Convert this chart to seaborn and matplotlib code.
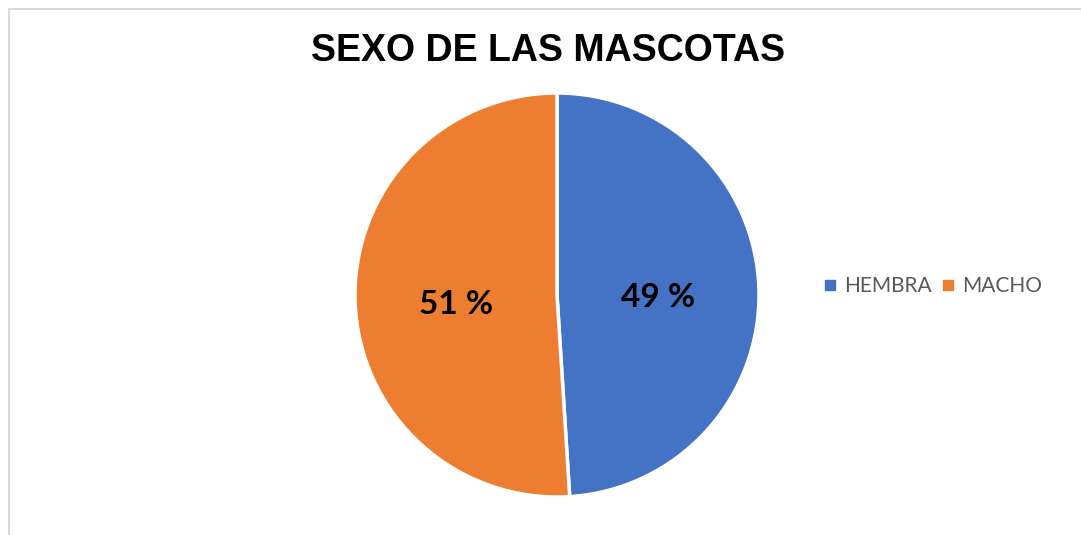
import seaborn as sns
import matplotlib.pyplot as plt
from matplotlib.lines import Line2D

# Datos
categorias = ["HEMBRA", "MACHO"]
porcentajes = [49, 51]
colores = ["#4472C4", "#ED7D31"]

sns.set_style("white")

W, H = 1081, 535
fig = plt.figure(figsize=(W / 100, H / 100), dpi=100)

# marco gris del gráfico (recortado)
fig.add_artist(Line2D([9 / W, 9 / W], [0, 1 - 9 / H], color="#d9d9d9", lw=1.5))
fig.add_artist(Line2D([9 / W, 1], [1 - 9 / H, 1 - 9 / H], color="#d9d9d9", lw=1.5))

# pastel
cx, cy, r = 557, 295, 202
ax = fig.add_axes([(cx - r) / W, (H - cy - r) / H, 2 * r / W, 2 * r / H])
wedges, textos, autotextos = ax.pie(
    porcentajes,
    colors=colores,
    startangle=90,
    counterclock=False,
    autopct=lambda p: f"{p:.0f} %",
    pctdistance=0.5,
    wedgeprops=dict(edgecolor="white", linewidth=2.5),
    textprops=dict(fontsize=24, fontweight="bold", family="Lato", color="black"),
)
for t in autotextos:
    x, y = t.get_position()
    t.set_position((x, y - 0.03))
ax.set_xlim(-1, 1)
ax.set_ylim(-1, 1)
ax.set_aspect("equal")
ax.axis("off")

fig.text(548 / W, 1 - 51 / H, "SEXO DE LAS MASCOTAS", ha="center", va="center",
         fontsize=27, fontweight="bold", family="Liberation Sans", color="black")

handles = [Line2D([], [], marker="s", linestyle="", markersize=7, color=c) for c in colores]
fig.legend(handles, categorias, loc="center left", bbox_to_anchor=(805 / W, 1 - 286 / H),
           ncol=2, frameon=False, handlelength=0.6, handletextpad=0.4, columnspacing=0.45,
           prop=dict(family="Lato", size=15), labelcolor="#595959")

plt.savefig("out.png", dpi=100)
plt.close()
